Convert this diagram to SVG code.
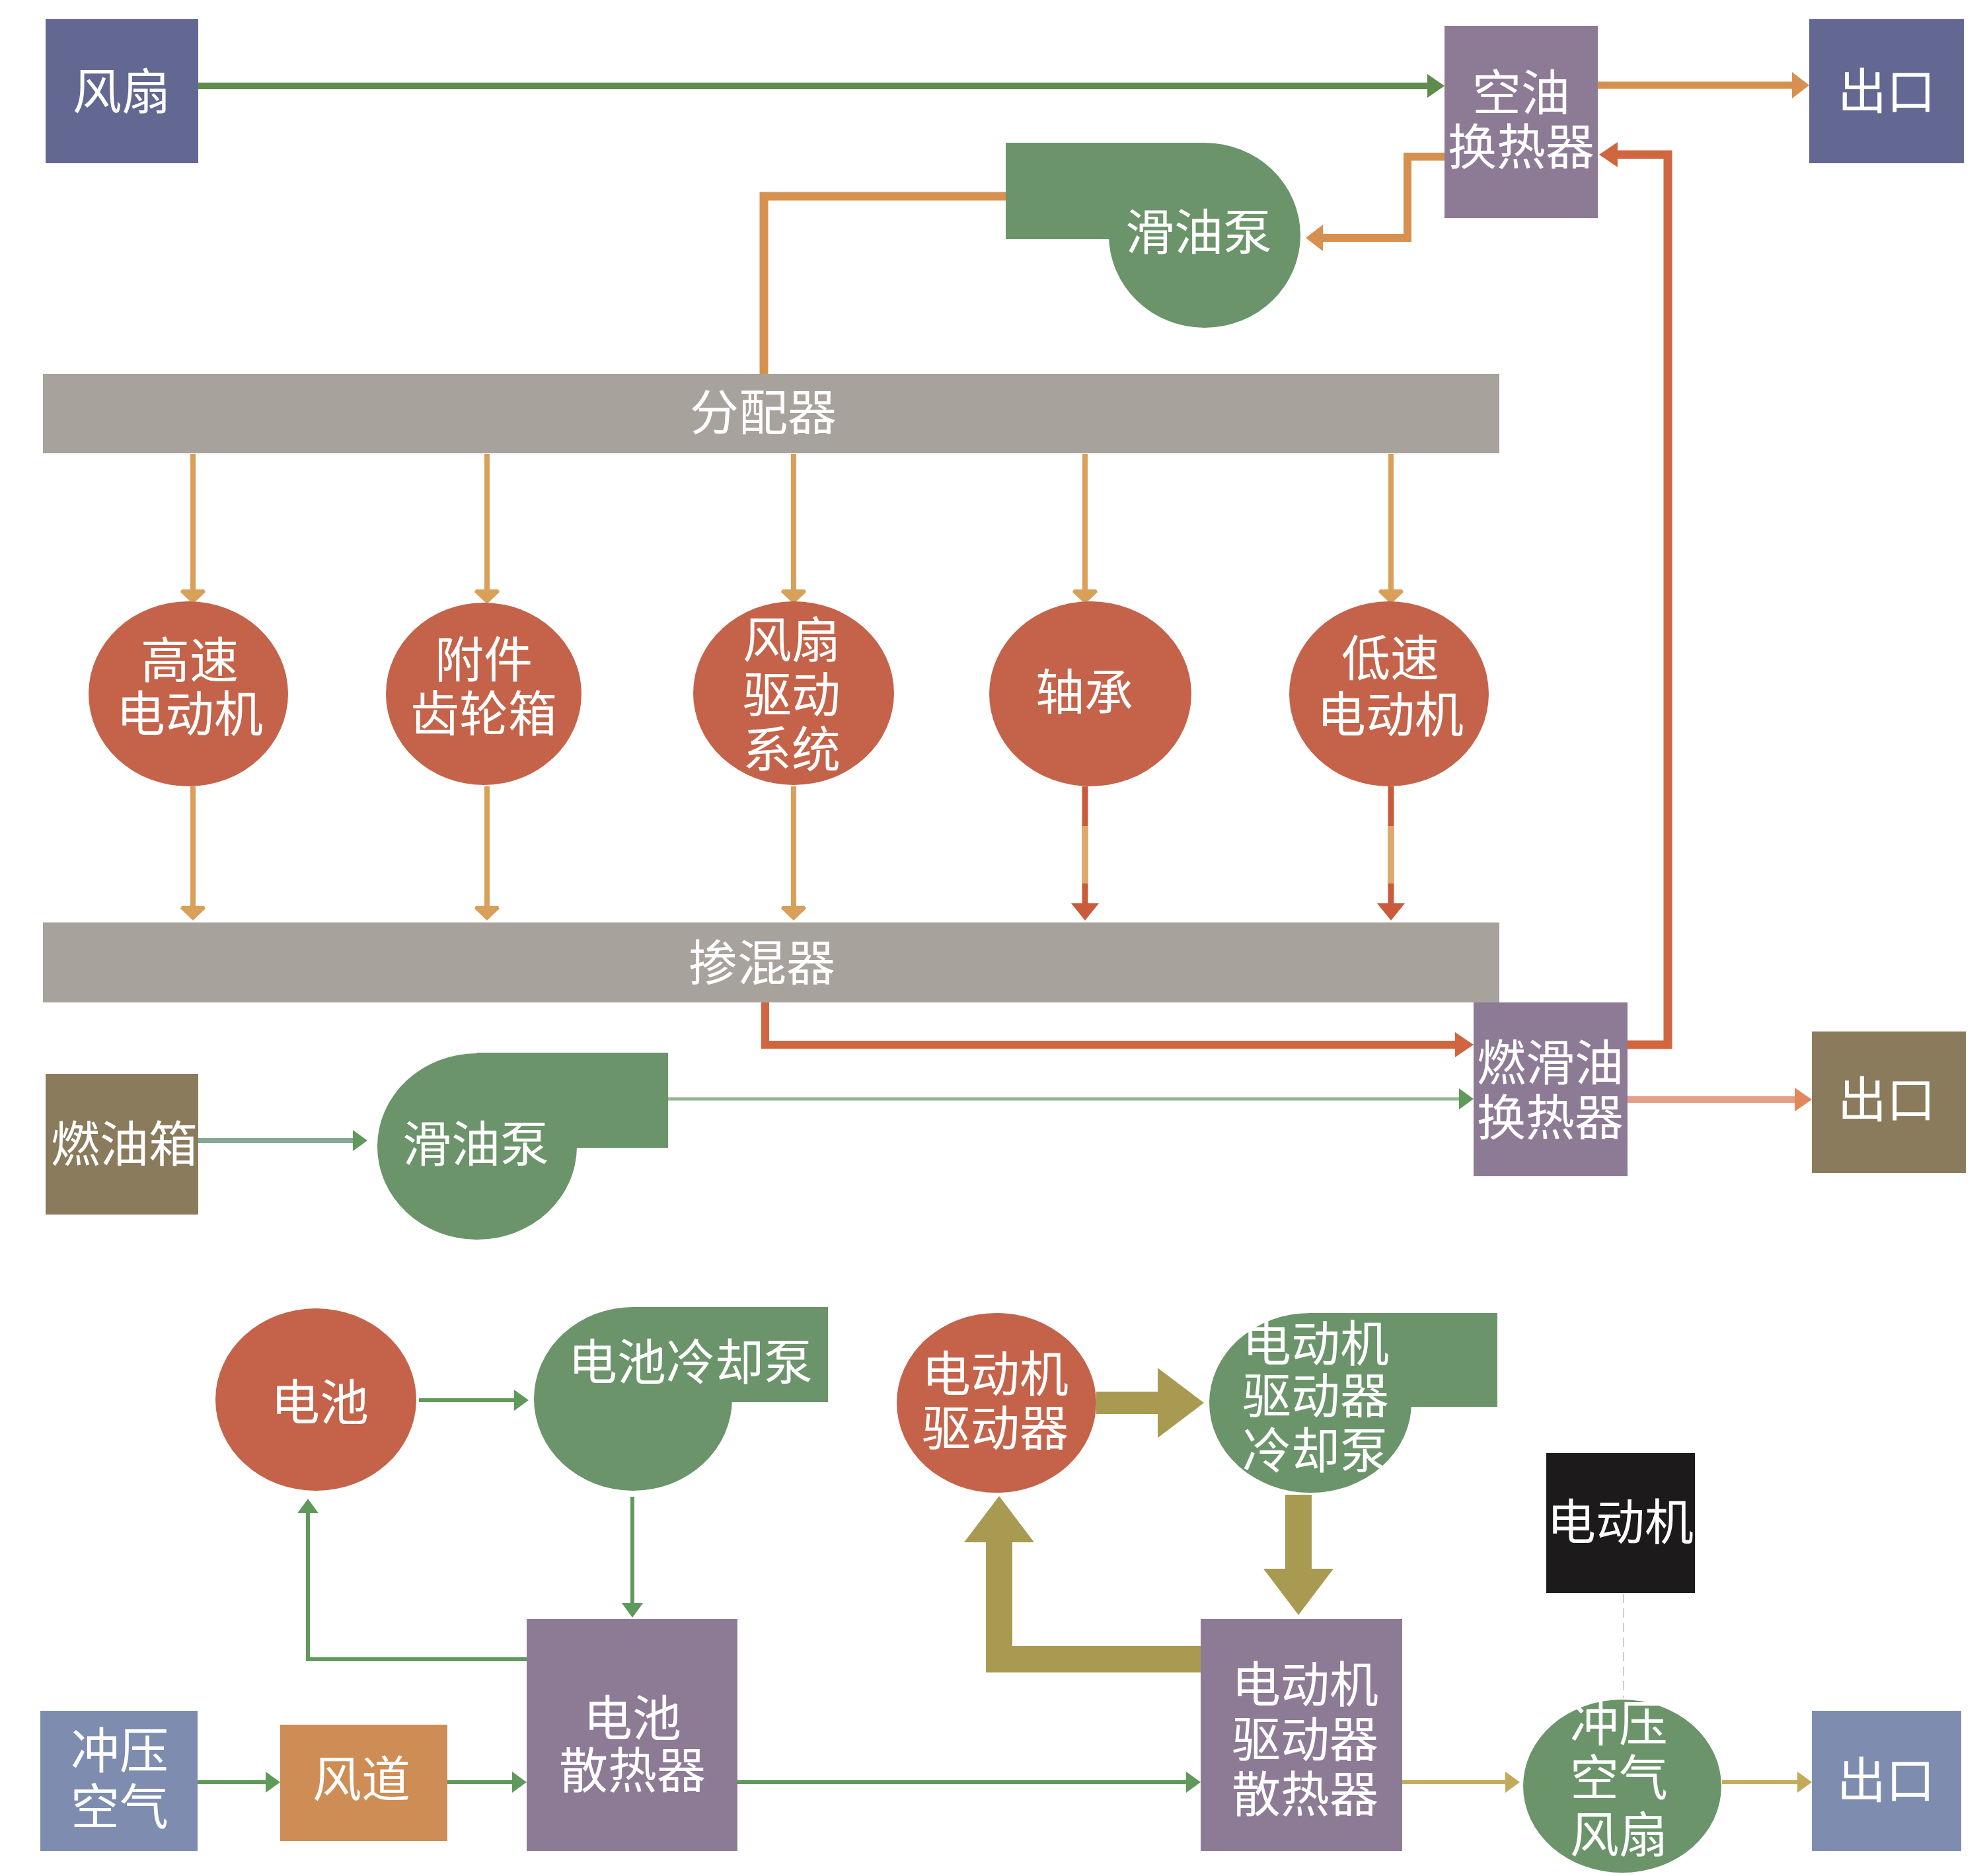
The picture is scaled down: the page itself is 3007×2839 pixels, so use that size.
<svg xmlns="http://www.w3.org/2000/svg" width="3007" height="2839" viewBox="0 0 3007 2839">
<style>
.t{font-family:"Liberation Serif","Noto Sans CJK SC",serif;font-size:74px;fill:#ffffff;text-anchor:middle;dominant-baseline:central}
.blue{fill:#626891}.purple{fill:#8d7b95}.bar{fill:#a8a29d}.olive{fill:#8a7b5c}.slate{fill:#7e8cb0}
.red{fill:#c4634a}.green{fill:#6b946a}.orangebox{fill:#cd8d55}.black{fill:#1c1a1a}
.c{fill:none;stroke-linejoin:miter}
</style>
<defs>
<marker id="mGreen" markerUnits="userSpaceOnUse" markerWidth="26" markerHeight="36" viewBox="0 0 26 36" refX="0" refY="18" orient="auto"><path d="M0,0 L26,18 L0,36 Z" fill="#5e8c4e"/></marker>
<marker id="mOrange" markerUnits="userSpaceOnUse" markerWidth="26" markerHeight="40" viewBox="0 0 26 40" refX="0" refY="20" orient="auto"><path d="M0,0 L26,20 L0,40 Z" fill="#d69150"/></marker>
<marker id="mRed" markerUnits="userSpaceOnUse" markerWidth="28" markerHeight="38" viewBox="0 0 28 38" refX="0" refY="19" orient="auto"><path d="M0,0 L28,19 L0,38 Z" fill="#cf6640"/></marker>
<marker id="mTan" markerUnits="userSpaceOnUse" markerWidth="22" markerHeight="38" viewBox="0 0 22 38" refX="0" refY="19" orient="auto"><path d="M0,2 L4,0 L22,19 L4,38 L0,36 Z" fill="#d9a05a"/></marker>
<marker id="mRedS" markerUnits="userSpaceOnUse" markerWidth="26" markerHeight="42" viewBox="0 0 26 42" refX="0" refY="21" orient="auto"><path d="M0,0 L26,21 L0,42 Z" fill="#c95b3c"/></marker>
<marker id="mLGreen" markerUnits="userSpaceOnUse" markerWidth="22" markerHeight="32" viewBox="0 0 22 32" refX="0" refY="16" orient="auto"><path d="M0,0 L22,16 L0,32 Z" fill="#5f9a5c"/></marker>
<marker id="mSalmon" markerUnits="userSpaceOnUse" markerWidth="26" markerHeight="36" viewBox="0 0 26 36" refX="0" refY="18" orient="auto"><path d="M0,0 L26,18 L0,36 Z" fill="#e08a5c"/></marker>
<marker id="mTan2" markerUnits="userSpaceOnUse" markerWidth="22" markerHeight="32" viewBox="0 0 22 32" refX="0" refY="16" orient="auto"><path d="M0,0 L22,16 L0,32 Z" fill="#c2aa5a"/></marker>
<marker id="mOlive" markerUnits="userSpaceOnUse" markerWidth="70" markerHeight="106" viewBox="0 0 70 106" refX="0" refY="53" orient="auto"><path d="M0,0 L70,53 L0,106 Z" fill="#a99a52"/></marker>
</defs>
<rect width="3007" height="2839" fill="#ffffff"/>

<g id="connectors" class="c">
<path d="M300,130 H2160" stroke="#5e8c4e" stroke-width="10" marker-end="url(#mGreen)"/>
<path d="M2418,129 H2712" stroke="#d69150" stroke-width="11" marker-end="url(#mOrange)"/>
<path d="M1522,297 H1156 V566" stroke="#d69150" stroke-width="13"/>
<path d="M2186,237 H2130 V360 H2002" stroke="#d69150" stroke-width="12" marker-end="url(#mOrange)"/>
<path d="M2463,1581 H2524 V234 H2448" stroke="#cf6640" stroke-width="13" marker-end="url(#mRed)"/>
<path d="M1158,1517 V1581 H2202" stroke="#cf6640" stroke-width="12" marker-end="url(#mRed)"/>
<path d="M292,687 V892" stroke="#d9a05a" stroke-width="8" marker-end="url(#mTan)"/>
<path d="M737,687 V892" stroke="#d9a05a" stroke-width="8" marker-end="url(#mTan)"/>
<path d="M1201,687 V892" stroke="#d9a05a" stroke-width="8" marker-end="url(#mTan)"/>
<path d="M1642,687 V892" stroke="#d9a05a" stroke-width="8" marker-end="url(#mTan)"/>
<path d="M2105,687 V892" stroke="#d9a05a" stroke-width="8" marker-end="url(#mTan)"/>
<path d="M292,1190 V1371" stroke="#d9a05a" stroke-width="8" marker-end="url(#mTan)"/>
<path d="M737,1190 V1371" stroke="#d9a05a" stroke-width="8" marker-end="url(#mTan)"/>
<path d="M1201,1190 V1371" stroke="#d9a05a" stroke-width="8" marker-end="url(#mTan)"/>
<path d="M1642,1190 V1367" stroke="#c95b3c" stroke-width="9" marker-end="url(#mRedS)"/>
<path d="M1642,1250 V1337" stroke="#dcab6a" stroke-width="9"/>
<path d="M2105,1190 V1367" stroke="#c95b3c" stroke-width="9" marker-end="url(#mRedS)"/>
<path d="M2105,1250 V1337" stroke="#dcab6a" stroke-width="9"/>
<path d="M300,1726 H534" stroke="#86a895" stroke-width="8" marker-end="url(#mLGreen)"/>
<path d="M1011,1663 H2208" stroke="#8fb88f" stroke-width="5" marker-end="url(#mLGreen)"/>
<path d="M2463,1664 H2716" stroke="#e6a088" stroke-width="10" marker-end="url(#mSalmon)"/>
<path d="M634,2119 H778" stroke="#5f9a5c" stroke-width="6" marker-end="url(#mLGreen)"/>
<path d="M957,2265 V2426" stroke="#5f9a5c" stroke-width="6" marker-end="url(#mLGreen)"/>
<path d="M797,2511 H466 V2290" stroke="#5f9a5c" stroke-width="6" marker-end="url(#mLGreen)"/>
<path d="M299,2697 H402" stroke="#5f9a5c" stroke-width="6" marker-end="url(#mLGreen)"/>
<path d="M677,2697 H775" stroke="#5f9a5c" stroke-width="6" marker-end="url(#mLGreen)"/>
<path d="M1116,2697 H1795" stroke="#5f9a5c" stroke-width="6" marker-end="url(#mLGreen)"/>
<path d="M2122,2697 H2278" stroke="#c4ac5c" stroke-width="6" marker-end="url(#mTan2)"/>
<path d="M2606,2697 H2720" stroke="#c4ac5c" stroke-width="6" marker-end="url(#mTan2)"/>
<path d="M1659,2123 H1752" stroke="#a99a52" stroke-width="34" marker-end="url(#mOlive)"/>
<path d="M1965,2262 V2374" stroke="#a99a52" stroke-width="40" marker-end="url(#mOlive)"/>
<path d="M1817,2511 H1512 V2334" stroke="#a99a52" stroke-width="40" marker-end="url(#mOlive)"/>
<path d="M2457,2412 V2570" stroke="#cfcfcf" stroke-width="2" stroke-dasharray="14 8"/>
</g>

<g id="fan"><rect class="blue" x="69" y="29" width="231" height="218"/><text class="t" x="184" y="140">风扇</text></g>
<g id="air-oil-hx"><rect class="purple" x="2186" y="39" width="232" height="291"/><text class="t"><tspan x="2302" y="142">空油</tspan><tspan x="2302" y="224">换热器</tspan></text></g>
<g id="outlet-1"><rect class="blue" x="2738" y="29" width="234" height="218"/><text class="t" x="2855" y="140">出口</text></g>
<g id="lube-pump-1"><ellipse class="green" cx="1823" cy="356" rx="145" ry="140"/><rect class="green" x="1522" y="216" width="301" height="146"/><text class="t" x="1814" y="353">滑油泵</text></g>
<g id="distributor"><rect class="bar" x="65" y="566" width="2204" height="120"/><text class="t" x="1155" y="626">分配器</text></g>
<g id="hs-motor"><ellipse class="red" cx="285" cy="1050" rx="151" ry="140"/><text class="t"><tspan x="287" y="1001">高速</tspan><tspan x="287" y="1082">电动机</tspan></text></g>
<g id="agb"><ellipse class="red" cx="732" cy="1050" rx="148" ry="138"/><text class="t"><tspan x="732" y="1000">附件</tspan><tspan x="732" y="1082">齿轮箱</tspan></text></g>
<g id="fan-drive"><ellipse class="red" cx="1201" cy="1049" rx="152" ry="139"/><text class="t"><tspan x="1198" y="970">风扇</tspan><tspan x="1198" y="1053">驱动</tspan><tspan x="1198" y="1136">系统</tspan></text></g>
<g id="bearing"><ellipse class="red" cx="1650" cy="1050" rx="153" ry="140"/><text class="t" x="1641" y="1049">轴承</text></g>
<g id="ls-motor"><ellipse class="red" cx="2102" cy="1050" rx="151" ry="140"/><text class="t"><tspan x="2104" y="998">低速</tspan><tspan x="2104" y="1083">电动机</tspan></text></g>
<g id="mixer"><rect class="bar" x="65" y="1396" width="2204" height="121"/><text class="t" x="1153" y="1459">掺混器</text></g>
<g id="fuel-oil-hx"><rect class="purple" x="2230" y="1517" width="233" height="263"/><text class="t"><tspan x="2346" y="1610">燃滑油</tspan><tspan x="2346" y="1693">换热器</tspan></text></g>
<g id="outlet-2"><rect class="olive" x="2742" y="1561" width="233" height="214"/><text class="t" x="2855" y="1666">出口</text></g>
<g id="fuel-tank"><rect class="olive" x="69" y="1625" width="231" height="213"/><text class="t" x="188" y="1733">燃油箱</text></g>
<g id="lube-pump-2"><ellipse class="green" cx="722" cy="1735" rx="151" ry="141"/><rect class="green" x="722" y="1593" width="289" height="144"/><text class="t" x="720" y="1733">滑油泵</text></g>
<g id="battery"><ellipse class="red" cx="478" cy="2118" rx="152" ry="138"/><text class="t" x="484" y="2124">电池</text></g>
<g id="battery-pump"><ellipse class="green" cx="958" cy="2117" rx="150" ry="139"/><rect class="green" x="958" y="1978" width="295" height="144"/><text class="t" x="1045" y="2063">电池冷却泵</text></g>
<g id="motor-drive"><ellipse class="red" cx="1508" cy="2123" rx="151" ry="136"/><text class="t"><tspan x="1506" y="2081">电动机</tspan><tspan x="1506" y="2163">驱动器</tspan></text></g>
<g id="drive-pump"><ellipse class="green" cx="1983" cy="2123" rx="153" ry="136"/><rect class="green" x="1983" y="1987" width="283" height="142"/><text class="t"><tspan x="1991" y="2035">电动机</tspan><tspan x="1991" y="2114">驱动器</tspan><tspan x="1991" y="2197">冷却泵</tspan></text></g>
<g id="motor"><rect class="black" x="2340" y="2199" width="225" height="212"/><text class="t" x="2452" y="2305">电动机</text></g>
<g id="ram-air"><rect class="slate" x="61" y="2589" width="238" height="212"/><text class="t"><tspan x="181" y="2651">冲压</tspan><tspan x="181" y="2736">空气</tspan></text></g>
<g id="duct"><rect class="orangebox" x="424" y="2610" width="253" height="176"/><text class="t" x="547" y="2694">风道</text></g>
<g id="battery-radiator"><rect class="purple" x="797" y="2450" width="319" height="351"/><text class="t"><tspan x="957" y="2602">电池</tspan><tspan x="957" y="2681">散热器</tspan></text></g>
<g id="drive-radiator"><rect class="purple" x="1817" y="2450" width="305" height="351"/><text class="t"><tspan x="1975" y="2551">电动机</tspan><tspan x="1975" y="2634">驱动器</tspan><tspan x="1975" y="2717">散热器</tspan></text></g>
<g id="ram-fan"><ellipse class="green" cx="2455" cy="2703" rx="150" ry="131"/><text class="t"><tspan x="2450" y="2610">冲压</tspan><tspan x="2450" y="2692">空气</tspan><tspan x="2450" y="2778">风扇</tspan></text></g>
<g id="outlet-3"><rect class="slate" x="2742" y="2589" width="226" height="212"/><text class="t" x="2854" y="2696">出口</text></g>
</svg>
